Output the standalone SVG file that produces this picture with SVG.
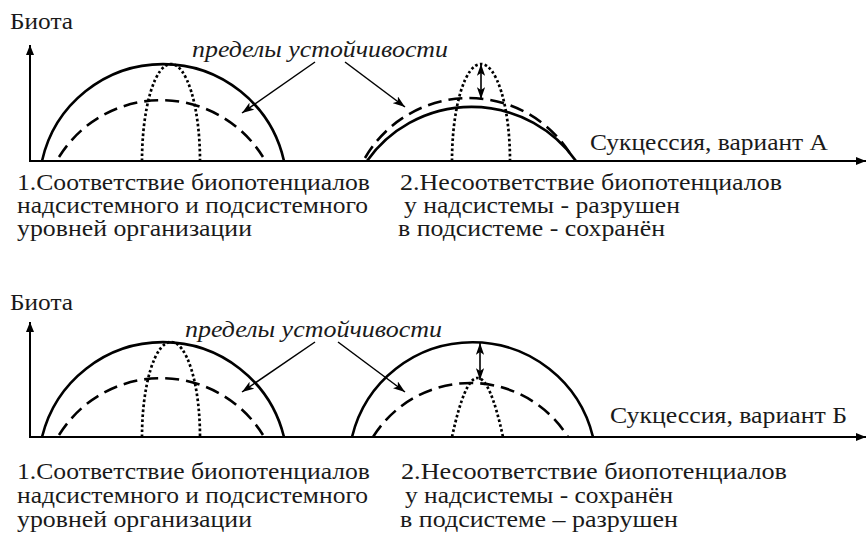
<svg xmlns="http://www.w3.org/2000/svg" width="868" height="541" viewBox="0 0 868 541">
<style>
.bg{fill:#fff}
.axis{stroke:#000;stroke-width:2;fill:none}
.solid{stroke:#000;stroke-width:2.6;fill:none}
.dash{stroke:#000;stroke-width:2.6;fill:none;stroke-dasharray:14 7}
.dot{stroke:#000;stroke-width:2.7;fill:none;stroke-dasharray:2.6 2.4}
.ptr{stroke:#000;stroke-width:1.5;fill:none;marker-end:url(#ah)}
.dbl{stroke:#000;stroke-width:1.6;fill:none;marker-end:url(#ah);marker-start:url(#ah)}
text{font-family:"Liberation Serif","Times New Roman",serif;font-size:23px;fill:#1a1a1a}
.it{font-style:italic}
</style>
<defs>
<marker id="ah" viewBox="0 0 10 7" refX="10" refY="3.5" markerUnits="userSpaceOnUse" markerWidth="12" markerHeight="8.4" orient="auto-start-reverse">
<path d="M0,0 L10,3.5 L0,7 L2.5,3.5 z" fill="#000"/>
</marker>
<marker id="ax" viewBox="0 0 10 8" refX="10" refY="4" markerUnits="userSpaceOnUse" markerWidth="10" markerHeight="8" orient="auto">
<path d="M0,0 L10,4 L0,8 z" fill="#000"/>
</marker>
</defs>
<rect class="bg" x="0" y="0" width="868" height="541"/>

<g id="variantA">
<g id="axesA">
<line class="axis" x1="30" y1="161" x2="30" y2="45" marker-end="url(#ax)"/>
<line class="axis" x1="29" y1="161" x2="866" y2="161" marker-end="url(#ax)"/>
<text x="10" y="29" textLength="63" lengthAdjust="spacingAndGlyphs">Биота</text>
<text x="590" y="150" textLength="238" lengthAdjust="spacingAndGlyphs">Сукцессия, вариант А</text>
</g>
<g id="A1">
<path class="solid" d="M42,161 A124,124 0 0 1 284,161"/>
<path class="dash" d="M59,157 A120,120 0 0 1 263,157"/>
<path class="dot" d="M142,161 A29,97 0 0 1 200,161"/>
</g>
<g id="A2">
<path class="solid" d="M367,161 A128,128 0 0 1 576,161"/>
<path class="dash" d="M365,158 A120,120 0 0 1 571,155"/>
<path class="dot" d="M452,161 A29,97 0 0 1 510,161"/>
</g>
<g id="labelA">
<text class="it" x="192" y="57" textLength="256" lengthAdjust="spacingAndGlyphs">пределы устойчивости</text>
</g>
<g id="connectorsA">
<line class="ptr" x1="315" y1="62" x2="242" y2="113"/>
<line class="ptr" x1="345" y1="62" x2="405" y2="107"/>
<line class="dbl" x1="481" y1="64" x2="481" y2="99"/>
</g>
<g id="captionsA">
<text x="17" y="190" textLength="353" lengthAdjust="spacingAndGlyphs">1.Соответствие биопотенциалов</text>
<text x="17" y="213" textLength="351" lengthAdjust="spacingAndGlyphs">надсистемного и подсистемного</text>
<text x="17" y="236" textLength="235" lengthAdjust="spacingAndGlyphs">уровней организации</text>
<text x="400" y="190" textLength="382" lengthAdjust="spacingAndGlyphs">2.Несоответствие биопотенциалов</text>
<text x="404" y="213" textLength="276" lengthAdjust="spacingAndGlyphs">у надсистемы - разрушен</text>
<text x="398" y="236" textLength="267" lengthAdjust="spacingAndGlyphs">в подсистеме - сохранён</text>
</g>
</g>

<g id="variantB">
<g id="axesB">
<line class="axis" x1="30" y1="437" x2="30" y2="322" marker-end="url(#ax)"/>
<line class="axis" x1="29" y1="437" x2="866" y2="437" marker-end="url(#ax)"/>
<text x="10" y="310" textLength="63" lengthAdjust="spacingAndGlyphs">Биота</text>
<text x="610" y="423" textLength="237" lengthAdjust="spacingAndGlyphs">Сукцессия, вариант Б</text>
</g>
<g id="B1">
<path class="solid" d="M42,437 A124.6,124.6 0 0 1 284,437"/>
<path class="dash" d="M59,435 A120,120 0 0 1 263,435"/>
<path class="dot" d="M142,437 A29,95 0 0 1 200,437"/>
</g>
<g id="B2">
<path class="solid" d="M352,437 A124,124 0 0 1 593,437"/>
<path class="dash" d="M373,437 A115,115 0 0 1 568,437"/>
<path class="dot" d="M452,437 Q477.5,319 503,437"/>
</g>
<g id="labelB">
<text class="it" x="185" y="337" textLength="257" lengthAdjust="spacingAndGlyphs">пределы устойчивости</text>
</g>
<g id="connectorsB">
<line class="ptr" x1="315" y1="342" x2="242" y2="392"/>
<line class="ptr" x1="338" y1="342" x2="405" y2="392"/>
<line class="dbl" x1="480" y1="343" x2="480" y2="380"/>
</g>
<g id="captionsB">
<text x="17" y="479" textLength="353" lengthAdjust="spacingAndGlyphs">1.Соответствие биопотенциалов</text>
<text x="17" y="503" textLength="351" lengthAdjust="spacingAndGlyphs">надсистемного и подсистемного</text>
<text x="17" y="527" textLength="235" lengthAdjust="spacingAndGlyphs">уровней организации</text>
<text x="401" y="479" textLength="386" lengthAdjust="spacingAndGlyphs">2.Несоответствие биопотенциалов</text>
<text x="405" y="503" textLength="268" lengthAdjust="spacingAndGlyphs">у надсистемы - сохранён</text>
<text x="400" y="527" textLength="278" lengthAdjust="spacingAndGlyphs">в подсистеме – разрушен</text>
</g>
</g>
</svg>
